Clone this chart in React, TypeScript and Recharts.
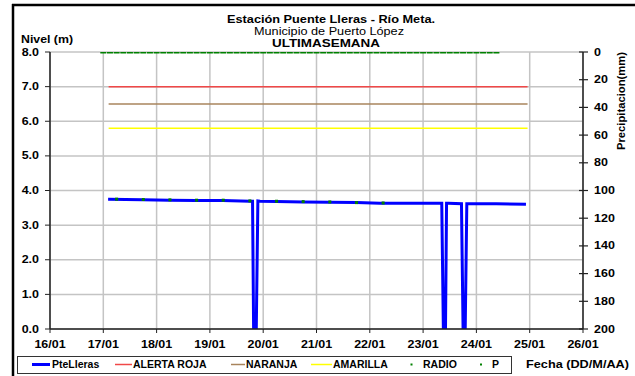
import React from 'react';
import { ComposedChart, Line, XAxis, YAxis, CartesianGrid } from 'recharts';

// ---------- data ----------
const DAY_TICKS = [16, 17, 18, 19, 20, 21, 22, 23, 24, 25, 26];
const LEVEL_TICKS = [0, 1, 2, 3, 4, 5, 6, 7, 8];
const PRECIP_TICKS = [0, 20, 40, 60, 80, 100, 120, 140, 160, 180, 200];

const LEVEL_TIMES = [17.09, 17.74, 18.24, 18.74, 19.24, 19.75, 19.8, 19.82, 19.87, 19.9, 19.94, 20.25, 20.75, 21.25, 21.75, 22.19, 22.57, 23.35, 23.38, 23.42, 23.44, 23.47, 23.72, 23.75, 23.79, 23.82, 23.84, 24.37, 24.93];
const LEVEL_VALUES = [3.75, 3.73, 3.72, 3.71, 3.71, 3.69, 3.69, 0, 0, 3.7, 3.69, 3.68, 3.67, 3.66, 3.65, 3.63, 3.63, 3.63, 0, 0, 3.63, 3.63, 3.62, 0, 0, 3.62, 3.62, 3.62, 3.6];

const RADIO_TIMES = [17.25, 17.75, 18.25, 18.75, 19.25, 19.75, 20.25, 20.75, 21.25, 21.75, 22.25];
const RADIO_VALUES = [3.75, 3.74, 3.73, 3.72, 3.72, 3.7, 3.69, 3.68, 3.67, 3.65, 3.64];

const THRESHOLD_TIMES = [17.1, 24.96];
const ALERTA_ROJA = 7.0;
const NARANJA = 6.5;
const AMARILLA = 5.8;

const P_TIMES = [
  17, 17.125, 17.25, 17.375, 17.5, 17.625, 17.75, 17.875,
  18, 18.125, 18.25, 18.375, 18.5, 18.625, 18.75, 18.875,
  19, 19.125, 19.25, 19.375, 19.5, 19.625, 19.75, 19.875,
  20, 20.125, 20.25, 20.375, 20.5, 20.625, 20.75, 20.875,
  21, 21.125, 21.25, 21.375, 21.5, 21.625, 21.75, 21.875,
  22, 22.125, 22.25, 22.375, 22.5, 22.625, 22.75, 22.875,
  23, 23.125, 23.25, 23.375, 23.5, 23.625, 23.75, 23.875,
  24, 24.125, 24.25, 24.375,
];
const P_VALUES = [
  0, 0, 0, 0, 0, 0, 0, 0,
  0, 0, 0, 0, 0, 0, 0, 0,
  0, 0, 0, 0, 0, 0, 0, 0,
  0, 0, 0, 0, 0, 0, 0, 0,
  0, 0, 0, 0, 0, 0, 0, 0,
  0, 0, 0, 0, 0, 0, 0, 0,
  0, 0, 0, 0, 0, 0, 0, 0,
  0, 0, 0, 0,
];

// ---------- build tables ----------
const zip = (ts: number[], vs: number[]) => ts.map((t, i) => ({ t, v: vs[i] }));
const levelData = zip(LEVEL_TIMES, LEVEL_VALUES);
const radioData = zip(RADIO_TIMES, RADIO_VALUES);
const pData = zip(P_TIMES, P_VALUES);
const rojaData = THRESHOLD_TIMES.map((t) => ({ t, v: ALERTA_ROJA }));
const naranjaData = THRESHOLD_TIMES.map((t) => ({ t, v: NARANJA }));
const amarillaData = THRESHOLD_TIMES.map((t) => ({ t, v: AMARILLA }));

// ---------- styles ----------
const FONT = '"Liberation Sans", Arial, Helvetica, sans-serif';
const SX = 1.25;
const LSX = 1.05;
const BLUE = '#0000FF';
const RED = '#F04848';
const BROWN = '#A8845C';
const YELLOW = '#FFFF00';
const GREEN = '#008000';
const AXIS = '#222';

const LeftTick = (props: any) => {
  const { x, y, payload } = props;
  return (
    <text
      transform={`translate(${x},${y}) scale(${SX},1)`}
      textAnchor="end"
      dy="0.35em"
      fontFamily={FONT}
      fontSize={10}
      fontWeight="bold"
      fill="#000"
    >
      {Number(payload.value).toFixed(1)}
    </text>
  );
};

const RightTick = (props: any) => {
  const { x, y, payload } = props;
  return (
    <g>
      <line x1={x - 14} x2={x - 5} y1={y} y2={y} stroke={AXIS} strokeWidth={1.2} />
      <text
        transform={`translate(${x + 1},${y}) scale(${SX},1)`}
        textAnchor="start"
        dy="0.35em"
        fontFamily={FONT}
        fontSize={10}
        fontWeight="bold"
        fill="#000"
      >
        {payload.value}
      </text>
    </g>
  );
};

const BottomTick = (props: any) => {
  const { x, y, payload } = props;
  return (
    <text
      transform={`translate(${x},${y}) scale(${SX},1)`}
      textAnchor="middle"
      dy="0.85em"
      fontFamily={FONT}
      fontSize={10}
      fontWeight="bold"
      fill="#000"
    >
      {`${payload.value}/01`}
    </text>
  );
};

const RadioDot = (props: any) => {
  const { cx, cy } = props;
  if (cx == null || cy == null) return null;
  return <rect x={cx - 1.5} y={cy - 1.5} width={3} height={3} fill={GREEN} />;
};

const PDash = (props: any) => {
  const { cx, cy } = props;
  if (cx == null || cy == null) return null;
  return <rect x={cx - 3} y={cy - 1.5} width={6} height={3} fill={GREEN} />;
};

const LegendLabel = ({ x, children }: { x: number; children: React.ReactNode }) => (
  <text
    transform={`translate(${x},368) scale(${LSX},1)`}
    fontFamily={FONT}
    fontSize={10}
    fontWeight="bold"
    fill="#000"
  >
    {children}
  </text>
);

export default function App() {
  return (
    <div style={{ position: 'fixed', left: 0, top: 0, width: 635, height: 376, background: '#fff' }}>
      <ComposedChart
        width={635}
        height={376}
        margin={{ top: 52, right: 12, bottom: 17, left: 10 }}
        style={{ position: 'absolute', left: 0, top: 0 }}
      >
        <CartesianGrid stroke="#C4C4C4" strokeWidth={1.5} />
        <XAxis
          dataKey="t"
          type="number"
          domain={[16, 26]}
          ticks={DAY_TICKS}
          allowDataOverflow
          height={30}
          tick={<BottomTick />}
          tickSize={4}
          tickMargin={6}
          axisLine={{ stroke: AXIS, strokeWidth: 1.5 }}
          tickLine={{ stroke: AXIS }}
        />
        <YAxis
          dataKey="v"
          type="number"
          domain={[0, 8]}
          ticks={LEVEL_TICKS}
          allowDataOverflow
          width={40}
          tick={<LeftTick />}
          tickSize={5}
          tickMargin={6}
          axisLine={{ stroke: AXIS, strokeWidth: 1.5 }}
          tickLine={{ stroke: AXIS }}
        />
        <YAxis
          yAxisId="p"
          orientation="right"
          dataKey="v"
          type="number"
          domain={[0, 200]}
          ticks={PRECIP_TICKS}
          reversed
          allowDataOverflow
          width={40}
          tick={<RightTick />}
          tickSize={4}
          tickMargin={6}
          tickLine={false}
          axisLine={{ stroke: AXIS, strokeWidth: 1.5 }}
        />
        <Line data={rojaData} dataKey="v" stroke={RED} strokeWidth={1.5} dot={false} isAnimationActive={false} />
        <Line data={naranjaData} dataKey="v" stroke={BROWN} strokeWidth={1.5} dot={false} isAnimationActive={false} />
        <Line data={amarillaData} dataKey="v" stroke={YELLOW} strokeWidth={1.5} dot={false} isAnimationActive={false} />
        <Line
          data={levelData}
          dataKey="v"
          type="linear"
          stroke={BLUE}
          strokeWidth={3}
          strokeLinejoin="miter"
          dot={false}
          isAnimationActive={false}
        />
        <Line data={radioData} dataKey="v" stroke="none" dot={<RadioDot />} isAnimationActive={false} />
        <Line data={pData} yAxisId="p" dataKey="v" stroke="none" dot={<PDash />} isAnimationActive={false} />
      </ComposedChart>

      <svg
        width={635}
        height={376}
        style={{ position: 'absolute', left: 0, top: 0, pointerEvents: 'none' }}
      >
        {/* frame */}
        <line x1={12} x2={635} y1={5} y2={5} stroke="#000" strokeWidth={2.5} />
        <line x1={13} x2={13} y1={4} y2={376} stroke="#000" strokeWidth={2.5} />

        {/* titles */}
        <text x={227} y={23} fontFamily={FONT} fontSize={10} fontWeight="bold" textLength={208} lengthAdjust="spacingAndGlyphs">
          Estación Puente Lleras - Río Meta.
        </text>
        <text x={254} y={35} fontFamily={FONT} fontSize={10} textLength={150} lengthAdjust="spacingAndGlyphs">
          Municipio de Puerto López
        </text>
        <text x={272} y={46.5} fontFamily={FONT} fontSize={10} fontWeight="bold" textLength={108} lengthAdjust="spacingAndGlyphs">
          ULTIMASEMANA
        </text>
        <text x={21} y={43} fontFamily={FONT} fontSize={10.5} fontWeight="bold" textLength={52} lengthAdjust="spacingAndGlyphs">
          Nivel (m)
        </text>
        <text
          transform="translate(625,101) rotate(-90)"
          textAnchor="middle"
          fontFamily={FONT}
          fontSize={11}
          fontWeight="bold"
          textLength={98}
          lengthAdjust="spacingAndGlyphs"
        >
          Precipitacion(mm)
        </text>

        {/* legend */}
        <rect x={17.5} y={356.5} width={494} height={17} fill="#fff" stroke="#333" strokeWidth={1} />
        <line x1={32} x2={50} y1={364.5} y2={364.5} stroke={BLUE} strokeWidth={3} />
        <LegendLabel x={52}>PteLleras</LegendLabel>
        <line x1={115} x2={132} y1={364.5} y2={364.5} stroke={RED} strokeWidth={1.5} />
        <LegendLabel x={133}>ALERTA ROJA</LegendLabel>
        <line x1={231} x2={245} y1={364.5} y2={364.5} stroke={BROWN} strokeWidth={1.5} />
        <LegendLabel x={246}>NARANJA</LegendLabel>
        <line x1={311} x2={332} y1={364.5} y2={364.5} stroke={YELLOW} strokeWidth={1.5} />
        <LegendLabel x={333}>AMARILLA</LegendLabel>
        <rect x={410.5} y={363.5} width={2} height={2} fill={GREEN} />
        <LegendLabel x={423}>RADIO</LegendLabel>
        <rect x={480} y={363.5} width={2} height={2} fill={GREEN} />
        <LegendLabel x={492}>P</LegendLabel>
        <text x={526} y={368} fontFamily={FONT} fontSize={10.5} fontWeight="bold" textLength={103} lengthAdjust="spacingAndGlyphs">
          Fecha (DD/M/AA)
        </text>
      </svg>
    </div>
  );
}
